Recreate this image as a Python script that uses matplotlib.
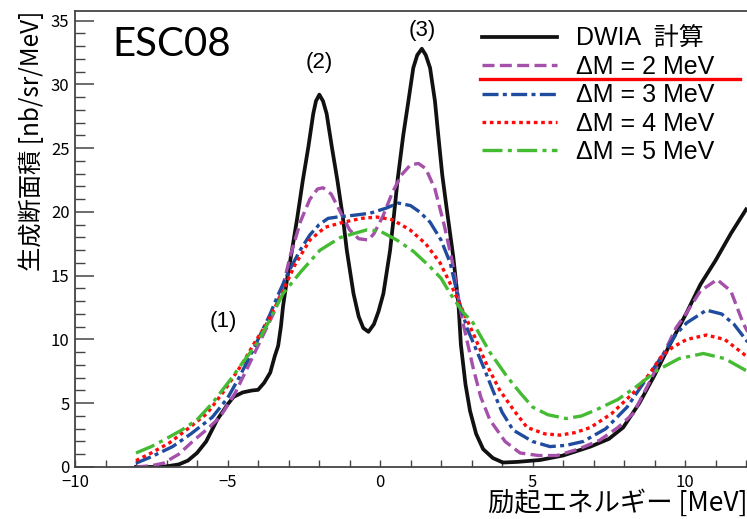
import matplotlib
matplotlib.use("Agg")
import matplotlib.pyplot as plt
from matplotlib.ticker import MultipleLocator

plt.rcParams['font.family'] = ['Noto Sans CJK JP', 'DejaVu Sans']

# DWIA calculation (black)
dwia_x = [-8.0, -7.5, -7.0, -6.6, -6.3, -6.0, -5.7, -5.34, -5.0, -4.8, -4.5, -4.2, -4.0, -3.8,
          -3.6, -3.45, -3.34, -3.25, -3.18, -3.05, -2.9, -2.71, -2.53, -2.35, -2.19, -2.1,
          -1.99, -1.87, -1.75, -1.58, -1.4, -1.22, -1.09, -0.87, -0.7, -0.55, -0.38, -0.2,
          -0.05, 0.11, 0.33, 0.45, 0.58, 0.76, 0.93, 1.09, 1.22, 1.37, 1.5, 1.64, 1.8, 1.91,
          2.04, 2.2, 2.4, 2.57, 2.65, 2.8, 2.95, 3.15, 3.38, 3.7, 4.03, 4.5, 5.25, 6.0, 6.9,
          7.5, 7.97, 8.5, 9.0, 9.5, 10.05, 10.5, 11.0, 11.5, 12.0]
dwia_y = [0.0, 0.0, 0.05, 0.2, 0.5, 1.1, 2.0, 3.7, 4.9, 5.5, 5.85, 6.0, 6.05, 6.6,
          7.4, 8.7, 9.5, 11.0, 12.6, 14.7, 16.8, 19.6, 22.5, 25.1, 27.7, 28.7,
          29.2, 28.7, 27.7, 25.1, 22.5, 19.6, 17.0, 13.6, 11.8, 10.9, 10.6, 11.2,
          12.2, 13.6, 17.0, 19.6, 22.6, 26.0, 28.7, 31.3, 32.3, 32.8, 32.3, 31.3, 28.7, 26.0,
          22.9, 20.0, 16.5, 12.8, 9.6, 6.5, 4.4, 2.6, 1.4, 0.7, 0.35, 0.4, 0.55, 0.9, 1.6,
          2.2, 3.1, 5.0, 7.2, 9.6, 12.1, 14.3, 16.2, 18.3, 20.2]

# Delta M = 2 MeV (purple)
dm2_x = [-8.0, -7.5, -7.1, -6.6, -6.1, -5.65, -5.25, -4.75, -4.26, -3.9, -3.5, -3.2, -2.95,
         -2.6, -2.3, -2.05, -1.87, -1.6, -1.3, -1.0, -0.7, -0.38, -0.2, 0.1, 0.4, 0.7, 1.0,
         1.26, 1.5, 1.8, 2.1, 2.36, 2.55, 2.72, 3.05, 3.3, 3.6, 4.1, 4.59, 5.2, 5.8, 6.5, 7.2,
         7.8, 8.3, 8.8, 9.3, 9.7, 10.05, 10.5, 11.05, 11.5, 11.9, 12.05]
dm2_y = [0.0, 0.1, 0.3, 1.0, 2.1, 3.0, 3.9, 5.8, 8.2, 10.0, 12.0, 14.0, 16.5,
         19.3, 21.0, 21.8, 21.9, 21.4, 20.0, 18.6, 17.9, 17.8, 18.3, 19.7, 21.5, 22.9, 23.7,
         23.8, 23.4, 21.8, 19.0, 16.2, 13.5, 11.3, 7.8, 5.5, 3.7, 2.0, 1.1, 0.9, 0.9, 1.4, 2.1,
         3.1, 4.2, 6.5, 8.9, 10.9, 12.1, 13.8, 14.7, 13.8, 11.3, 10.6]

# Delta M = 3 MeV (blue)
dm3_x = [-8.0, -7.5, -6.8, -6.2, -5.5, -5.0, -4.6, -4.1, -3.6, -3.38, -3.0, -2.62, -2.3, -2.0,
         -1.7, -1.41, -1.0, -0.33, 0.2, 0.6, 1.0, 1.3, 1.64, 2.0, 2.3, 2.6, 2.85, 3.1, 3.4,
         3.7, 4.0, 4.36, 5.0, 5.57, 6.1, 6.66, 7.4, 8.1, 8.7, 9.3, 9.7, 10.05, 10.7, 11.2,
         11.6, 12.05]
dm3_y = [0.3, 0.8, 1.6, 2.6, 3.9, 5.4, 7.1, 9.5, 12.0, 13.3, 15.3, 17.0, 18.2, 19.0,
         19.5, 19.6, 19.7, 19.9, 20.3, 20.7, 20.5, 20.0, 19.2, 17.8, 16.0, 12.9, 10.9, 9.5, 7.8,
         6.0, 4.3, 2.9, 2.0, 1.6, 1.7, 2.0, 3.0, 4.7, 6.8, 8.9, 10.4, 11.3, 12.3, 12.0,
         11.2, 9.8]

# Delta M = 4 MeV (red)
dm4_x = [-8.0, -7.5, -6.9, -6.3, -5.67, -5.1, -4.49, -4.1, -3.7, -3.28, -2.8, -2.3, -1.8,
         -1.2, -0.6, -0.1, 0.4, 0.98, 1.5, 1.97, 2.4, 2.8, 3.05, 3.5, 3.93, 4.4, 4.82, 5.4,
         5.9, 6.4, 6.9, 7.6, 8.3, 8.8, 9.2, 9.6, 10.05, 10.7, 11.3, 11.9, 12.05]
dm4_y = [0.5, 1.1, 1.9, 3.0, 4.2, 6.0, 8.2, 9.8, 11.3, 13.3, 15.8, 17.8, 18.8,
         19.2, 19.5, 19.6, 19.4, 18.6, 17.5, 16.0, 13.9, 11.8, 10.5, 8.0, 6.0, 4.4, 3.1, 2.6,
         2.5, 2.7, 3.1, 4.2, 5.8, 7.2, 8.6, 9.4, 10.0, 10.35, 10.0, 8.9, 8.6]

# Delta M = 5 MeV (green)
dm5_x = [-8.0, -7.5, -7.1, -6.5, -6.0, -5.5, -4.92, -4.5, -4.03, -3.6, -3.18, -2.6, -1.97,
         -1.3, -0.43, 0.0, 0.55, 1.1, 1.64, 2.0, 2.3, 2.7, 3.05, 3.6, 4.16, 4.6, 5.0, 5.5,
         6.1, 6.6, 7.1, 7.8, 8.4, 9.1, 9.8, 10.6, 11.3, 11.97, 12.05]
dm5_y = [1.1, 1.6, 2.1, 2.9, 3.7, 5.0, 6.8, 8.2, 9.7, 11.6, 13.6, 15.3, 17.0,
         18.0, 18.6, 18.5, 17.8, 16.9, 15.7, 14.8, 13.6, 12.2, 11.3, 9.0, 7.1, 5.8, 4.7, 4.1,
         3.8, 4.0, 4.5, 5.3, 6.3, 7.6, 8.5, 8.9, 8.5, 7.6, 7.5]

labels = ["DWIA  計算", "ΔM = 2 MeV", "ΔM = 3 MeV", "ΔM = 4 MeV", "ΔM = 5 MeV"]
peak_names = ["(1)", "(2)", "(3)"]
peak_pos = [(-5.15, 11.4), (-2.0, 31.7), (1.38, 34.2)]


def main():
    fig = plt.figure(figsize=(7.47, 5.19), dpi=100)
    ax = fig.add_axes([0.1004, 0.1002, 0.8996, 0.8786])

    ax.plot(dwia_x, dwia_y, color='#111111', lw=2.7, label=labels[0])
    ax.plot(dm2_x, dm2_y, color='#a550aa', lw=2.4, dashes=(3.6, 1.6), label=labels[1])
    ax.plot(dm3_x, dm3_y, color='#1f4c9e', lw=2.4, dashes=(4.8, 1.3, 1.2, 1.3), label=labels[2])
    ax.plot(dm4_x, dm4_y, color='#ff0a0a', lw=2.4, dashes=(1.1, 1.1), label=labels[3])
    ax.plot(dm5_x, dm5_y, color='#44bb33', lw=2.4, dashes=(6, 1.6, 1.2, 1.6), label=labels[4])

    ax.set_xlim(-10, 12.03)
    ax.set_ylim(0, 35.76)
    ax.xaxis.set_major_locator(MultipleLocator(5))
    ax.xaxis.set_minor_locator(MultipleLocator(1))
    ax.yaxis.set_major_locator(MultipleLocator(5))
    ax.yaxis.set_minor_locator(MultipleLocator(1))
    ax.tick_params(axis='y', which='major', direction='in', length=14, width=1.1,
                   color='#444444', labelsize=12, pad=4)
    ax.tick_params(axis='y', which='minor', direction='in', length=7, width=1.0, color='#444444')
    ax.tick_params(axis='x', which='both', direction='in', length=5, width=1.0,
                   color='#444444', labelsize=12, pad=5)
    ax.spines['right'].set_visible(False)
    for s in ['left', 'bottom', 'top']:
        ax.spines[s].set_color('#444444')
        ax.spines[s].set_linewidth(1.3)

    ax.set_xlabel("励起エネルギー [MeV]", fontsize=19, loc='right', labelpad=-1)
    ax.set_ylabel("生成断面積 [nb/sr/MeV]", fontsize=17.5, loc='top', labelpad=4)

    ax.text(0.055, 0.968, "ESC08", transform=ax.transAxes, fontsize=29, va='top',
            family=['Lato', 'DejaVu Sans'])
    for name, (px, py) in zip(peak_names, peak_pos):
        ax.text(px, py, name, fontsize=16, ha='center', va='center',
                family=['Liberation Sans', 'DejaVu Sans'])

    ax.legend(loc='upper left', bbox_to_anchor=(0.606, 0.965), frameon=False,
              handlelength=3.0, handletextpad=0.75, labelspacing=0.17, borderpad=0,
              borderaxespad=0, prop={'family': ['Liberation Sans', 'Noto Sans CJK JP'], 'size': 18})
    # red underline below the dM = 2 MeV entry
    ax.plot([0.603, 0.99], [0.851, 0.851], transform=ax.transAxes, color='#ff0000', lw=2.4,
            clip_on=False)

    fig.savefig("out.png", dpi=100)


if __name__ == '__main__':
    main()
